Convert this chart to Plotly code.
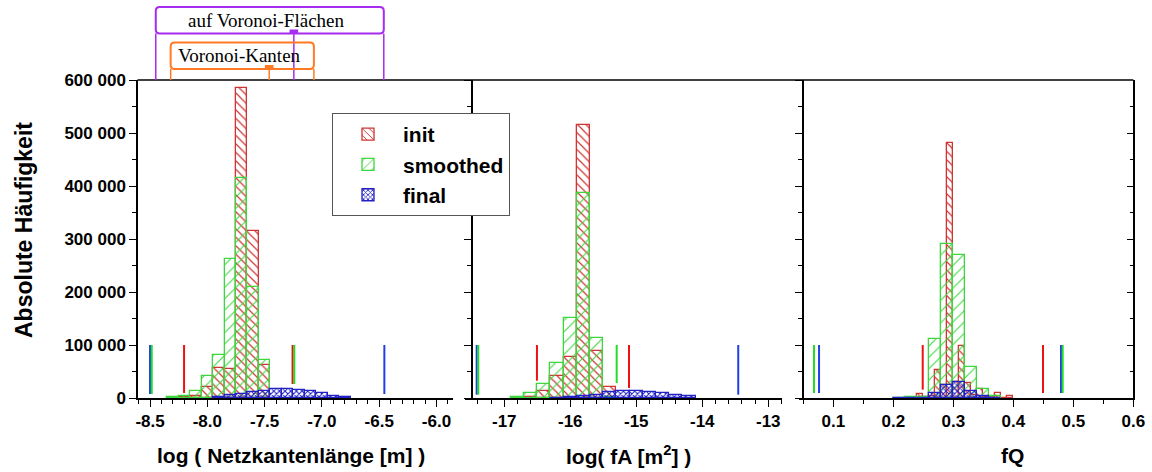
import plotly.graph_objects as go

W, H = 1152, 472

# ---------------- data ----------------
# log(edge length), bin width 0.1
edge_bins = [-8.3, -8.2, -8.1, -8.0, -7.9, -7.8, -7.7, -7.6, -7.5]
edge_init = [0, 2000, 3000, 20100, 57200, 54100, 584000, 314500, 61600]
edge_smoothed = [1500, 3500, 13200, 41500, 81100, 261600, 415700, 208800, 71700]
edge_final_bins = [-7.9, -7.8, -7.7, -7.6, -7.5, -7.4, -7.3, -7.2, -7.1, -7.0, -6.9, -6.8]
edge_final = [1000, 5000, 8000, 11000, 14000, 17000, 17000, 16000, 13500, 9000, 4500, 1200]

# log(face area), bin width 0.2
area_bins = [-16.8, -16.6, -16.4, -16.2, -16.0, -15.8, -15.6, -15.4]
area_init = [0, 1000, 13800, 41500, 78000, 515100, 89300, 20100]
area_smoothed = [1500, 10100, 25800, 65400, 151600, 386200, 112600, 2000]
area_final_bins = [-16.2, -16.0, -15.8, -15.6, -15.4, -15.2, -15.0, -14.8, -14.6, -14.4, -14.2]
area_final = [500, 2000, 3500, 6000, 10500, 12500, 12500, 11000, 9500, 5000, 3000]

# fQ: init binned at 0.01, smoothed/final at 0.02
q_init_bins = [0.245, 0.255, 0.265, 0.275, 0.285, 0.295, 0.305, 0.315,
               0.325, 0.335, 0.345, 0.355, 0.365, 0.375, 0.385, 0.395]
q_init = [7000, 1500, 3000, 53500, 25000, 480500, 30000, 98100,
          28900, 5000, 16400, 2000, 1000, 8800, 0, 3100]
q_bins = [0.21, 0.23, 0.25, 0.27, 0.29, 0.31, 0.33, 0.35, 0.37]
q_smoothed = [800, 1000, 1500, 110700, 289900, 269800, 59100, 16400, 4000]
q_final = [0, 0, 500, 10000, 25000, 30800, 14000, 4000, 0]

# min / max indicators: position and lower end of each vertical bar
MARK_TOP = 100000
edge_mark_init, edge_mark_init_base = [-8.203, -7.256], [9400, 26400]
edge_mark_smoothed, edge_mark_smoothed_base = [-8.485, -7.241], [7500, 26400]
edge_mark_final, edge_mark_final_base = [-8.500, -6.455], [7500, 7500]

area_mark_init, area_mark_init_base = [-16.505, -15.11], [32700, 18900]
area_mark_smoothed, area_mark_smoothed_base = [-17.394, -15.297], [6300, 28300]
area_mark_final, area_mark_final_base = [-17.418, -13.455], [6300, 6300]

q_mark_init, q_mark_init_base = [0.249, 0.4495], [15700, 9400]
q_mark_smoothed, q_mark_smoothed_base = [0.0678, 0.4823], [9400, 9400]
q_mark_final, q_mark_final_base = [0.0762, 0.4795], [9400, 9400]

# ranges marked above the first panel (log edge length)
faces_range = [-8.45, -7.245, -6.46]
edges_range = [-8.32, -7.46, -7.07]

# tick labels
y_ticks = [0, 100000, 200000, 300000, 400000, 500000, 600000]
y_ticktext = ["0", "100 000", "200 000", "300 000", "400 000", "500 000", "600 000"]
x1_ticks = [-8.5, -8.0, -7.5, -7.0, -6.5, -6.0]
x1_ticktext = ["-8.5", "-8.0", "-7.5", "-7.0", "-6.5", "-6.0"]
x2_ticks = [-17, -16, -15, -14, -13]
x2_ticktext = ["-17", "-16", "-15", "-14", "-13"]
x3_ticks = [0.1, 0.2, 0.3, 0.4, 0.5, 0.6]
x3_ticktext = ["0.1", "0.2", "0.3", "0.4", "0.5", "0.6"]

# ---------------- style ----------------
RED, GREEN, BLUE = "#cf3434", "#3ed63e", "#2222c4"
RED_M, GREEN_M, BLUE_M = "#ee1111", "#22dd22", "#1f3fe8"
PURPLE, ORANGE = "#a52cf0", "#ff7a22"
SANS = "Liberation Sans, Arial, sans-serif"
SERIF = "Liberation Serif, Times New Roman, serif"

STYLES = {
    "init": dict(color=RED, shape="\\", size=6, solidity=0.2),
    "smoothed": dict(color=GREEN, shape="/", size=8, solidity=0.14),
    "final": dict(color=BLUE, shape="x", size=4, solidity=0.45),
}


def px_x(p):
    return p / W


def px_y(p):
    return 1 - p / H


fig = go.Figure()


def add_bars(name, x, y, width, xa, ya, legend):
    st = STYLES[name]
    fig.add_trace(go.Bar(
        x=x, y=y, width=width, name=name, xaxis=xa, yaxis=ya,
        legendgroup=name, showlegend=legend,
        marker=dict(
            color=st["color"],
            line=dict(color=st["color"], width=1.3),
            pattern=dict(shape=st["shape"], size=st["size"], solidity=st["solidity"],
                         fillmode="replace"),
        ),
        hoverinfo="x+y",
    ))


def add_marks(xs, bases, color, xa, ya):
    lx, ly = [], []
    for xv, b in zip(xs, bases):
        lx += [xv, xv, None]
        ly += [b, MARK_TOP, None]
    fig.add_trace(go.Scatter(x=lx, y=ly, mode="lines", xaxis=xa, yaxis=ya,
                             line=dict(color=color, width=2), showlegend=False,
                             hoverinfo="skip"))


# panel 1
add_bars("init", edge_bins, edge_init, 0.1, "x", "y", True)
add_bars("smoothed", edge_bins, edge_smoothed, 0.1, "x", "y", True)
add_bars("final", edge_final_bins, edge_final, 0.1, "x", "y", True)
add_marks(edge_mark_init, edge_mark_init_base, RED_M, "x", "y")
add_marks(edge_mark_final, edge_mark_final_base, BLUE_M, "x", "y")
add_marks(edge_mark_smoothed, edge_mark_smoothed_base, GREEN_M, "x", "y")

# panel 2
add_bars("init", area_bins, area_init, 0.2, "x2", "y2", False)
add_bars("smoothed", area_bins, area_smoothed, 0.2, "x2", "y2", False)
add_bars("final", area_final_bins, area_final, 0.2, "x2", "y2", False)
add_marks(area_mark_init, area_mark_init_base, RED_M, "x2", "y2")
add_marks(area_mark_final, area_mark_final_base, BLUE_M, "x2", "y2")
add_marks(area_mark_smoothed, area_mark_smoothed_base, GREEN_M, "x2", "y2")

# panel 3
add_bars("init", q_init_bins, q_init, 0.01, "x3", "y3", False)
add_bars("smoothed", q_bins, q_smoothed, 0.02, "x3", "y3", False)
add_bars("final", q_bins, q_final, 0.02, "x3", "y3", False)
add_marks(q_mark_init, q_mark_init_base, RED_M, "x3", "y3")
add_marks(q_mark_final, q_mark_final_base, BLUE_M, "x3", "y3")
add_marks(q_mark_smoothed, q_mark_smoothed_base, GREEN_M, "x3", "y3")

# keeps the right-hand tick axis of the third panel drawn
fig.add_trace(go.Scatter(x=[None], y=[None], xaxis="x3", yaxis="y4", showlegend=False))

tickfont = dict(family=SANS, size=17, color="black", weight="bold")
Y_DOM = [px_y(398), px_y(80)]


def xaxis(dom, rng, vals, text, minor):
    return dict(domain=[px_x(dom[0]), px_x(dom[1])], range=rng, showline=True,
                linecolor="black", linewidth=1.5, ticks="outside", ticklen=7,
                tickwidth=1.3, tickcolor="black", tickvals=vals, ticktext=text,
                tickfont=tickfont, showgrid=False, zeroline=False, automargin=False,
                minor=dict(dtick=minor, ticks="outside", ticklen=4, tickwidth=1.2,
                           tickcolor="black", showgrid=False),
                fixedrange=True)


def yaxis(anchor, position=None, labels=False, side="left", ticks="outside", overlaying=None):
    d = dict(domain=Y_DOM, range=[0, 600000], showline=True, linecolor="black",
             linewidth=1.5, ticks=ticks, ticklen=7, tickwidth=1.3, tickcolor="black",
             tickvals=y_ticks, ticktext=y_ticktext, showticklabels=labels,
             tickfont=tickfont, showgrid=False, zeroline=False, side=side,
             automargin=False,
             minor=dict(tickvals=[50000, 150000, 250000, 350000, 450000, 550000],
                        ticks=ticks, ticklen=4, tickwidth=1.2, tickcolor="black",
                        showgrid=False),
             fixedrange=True)
    d["anchor"] = anchor
    if position is not None:
        d["position"] = position
    if overlaying:
        d["overlaying"] = overlaying
    return d


fig.update_layout(
    width=W, height=H, margin=dict(l=0, r=0, t=0, b=0, pad=0, autoexpand=False),
    paper_bgcolor="white", plot_bgcolor="rgba(0,0,0,0)",
    barmode="overlay", bargap=0,
    xaxis=xaxis([138, 453], [-8.605, -5.856], x1_ticks, x1_ticktext, 0.1),
    xaxis2=xaxis([465, 782], [-17.595, -12.792], x2_ticks, x2_ticktext, 0.2),
    xaxis3=xaxis([799, 1133.3], [0.0428, 0.6], x3_ticks, x3_ticktext, 0.05),
    yaxis=yaxis("x", labels=True),
    yaxis2=yaxis("free", position=px_x(471.5)),
    yaxis3=yaxis("free", position=px_x(802.7)),
    yaxis4=yaxis("x3", side="right", ticks="inside", overlaying="y3"),
    legend=dict(x=px_x(332), y=px_y(113), xanchor="left", yanchor="top",
                bgcolor="white", bordercolor="#555555", borderwidth=1,
                font=dict(family=SANS, size=21, color="black", weight="bold"),
                itemwidth=60, tracegroupgap=0),
    showlegend=True,
)

shapes = []
# top border of the three panels
shapes.append(dict(type="line", xref="paper", yref="paper", x0=px_x(137.5), x1=px_x(1133.3),
                   y0=px_y(80), y1=px_y(80), line=dict(color="black", width=1.5)))


def rounded_box(x0, x1, y0p, y1p, r_px, color, width):
    # x in data units of the first panel, y in pixels from the top
    k = 114.4  # pixels per unit on the first x axis
    rx = r_px / k
    ya, yb = px_y(y0p), px_y(y1p)  # top, bottom
    ry = r_px / H
    path = (f"M {x0 + rx},{ya} L {x1 - rx},{ya} Q {x1},{ya} {x1},{ya - ry} "
            f"L {x1},{yb + ry} Q {x1},{yb} {x1 - rx},{yb} L {x0 + rx},{yb} "
            f"Q {x0},{yb} {x0},{yb + ry} L {x0},{ya - ry} Q {x0},{ya} {x0 + rx},{ya} Z")
    return dict(type="path", xref="x", yref="paper", path=path,
                line=dict(color=color, width=width))


def bracket(rng, top_px, bottom_px, color, label, label_size):
    lo, mid, hi = rng
    shapes.append(rounded_box(lo, hi, top_px, bottom_px, 4, color, 2))
    for xv in rng:
        shapes.append(dict(type="line", xref="x", yref="paper", x0=xv, x1=xv,
                           y0=px_y(bottom_px), y1=px_y(80), line=dict(color=color, width=1.5)))
    shapes.append(dict(type="rect", xref="x", yref="paper", x0=mid - 4.3 / 114.4,
                       x1=mid + 4.3 / 114.4, y0=px_y(bottom_px), y1=px_y(bottom_px - 4),
                       fillcolor=color, line=dict(width=0)))
    fig.add_annotation(x=(lo + hi) / 2 - 3 / 114.4, y=px_y((top_px + bottom_px) / 2),
                       xref="x", yref="paper",
                       text=label, showarrow=False, xanchor="center", yanchor="middle",
                       font=dict(family=SERIF, size=label_size, color="black"))


bracket(faces_range, 7, 33.5, PURPLE, "auf Voronoi-Flächen", 19)
bracket(edges_range, 42.5, 69, ORANGE, "Voronoi-Kanten", 19)

fig.update_layout(shapes=shapes)

titlefont = dict(family=SANS, size=21, color="black", weight="bold")


def label(x, y, text, font, angle=0):
    fig.add_annotation(x=px_x(x), y=px_y(y), xref="paper", yref="paper", text=text,
                       textangle=angle, showarrow=False, xanchor="center",
                       yanchor="middle", font=font)


label(24, 230, "Absolute Häufigkeit",
      dict(family=SANS, size=23, color="black", weight="bold"), angle=-90)
label(291, 455, "log ( Netzkantenlänge [m] )", titlefont)
label(628, 455, "log( fA [m<sup>2</sup>] )", titlefont)
label(1012, 455, "fQ", titlefont)

fig.write_html("out.html")
